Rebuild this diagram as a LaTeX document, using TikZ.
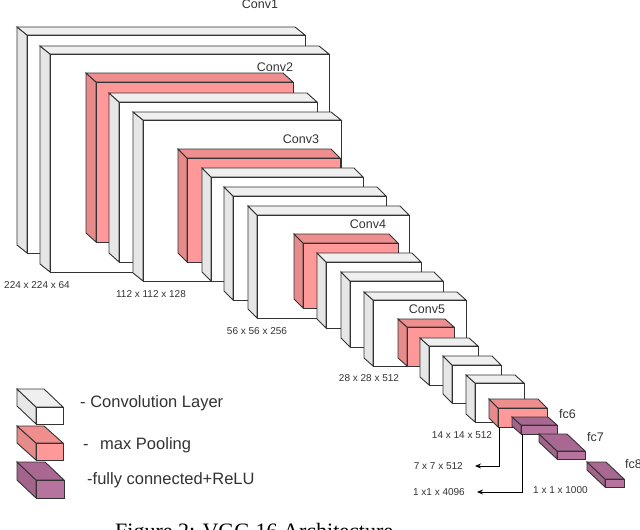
\documentclass[tikz,border=0pt]{standalone}
\usepackage{fontspec}
\setmainfont{Liberation Sans}
\newfontfamily\capfont{Liberation Serif}
\usetikzlibrary{arrows.meta}
\definecolor{convfront}{HTML}{FFFFFF}
\definecolor{convside}{HTML}{E6E6E6}
\definecolor{convtop}{HTML}{EFEFEF}
\definecolor{poolfront}{HTML}{FF9999}
\definecolor{poolside}{HTML}{E68A8A}
\definecolor{pooltop}{HTML}{EE8E8E}
\definecolor{fcfront}{HTML}{B5739D}
\definecolor{fcside}{HTML}{A3648C}
\definecolor{fctop}{HTML}{A86891}
\definecolor{edge}{HTML}{333333}
\definecolor{txt}{HTML}{333333}
\tikzset{
  face/.style={draw=edge, line width=0.9pt, line join=miter, inner sep=0pt, outer sep=0pt},
  dimlabel/.style={font=\fontsize{10}{12}\selectfont, text=txt, inner sep=0pt},
  layerlabel/.style={font=\fontsize{12.5}{14}\selectfont, text=txt, inner sep=0pt},
  legendlabel/.style={font=\fontsize{16.5}{19}\selectfont, text=txt, inner sep=0pt, anchor=west},
  conn/.style={draw=black, line width=0.9pt, -{Stealth[length=6pt,width=5pt]}},
}
\newcommand\cuboid[8]{%
  \filldraw[face, fill=#8side] (#2,#3) -- ({#2+#6},{#3+#7}) -- ({#2+#6},{#5+#7}) -- (#2,#5) -- cycle;
  \filldraw[face, fill=#8top] (#2,#3) -- ({#2+#6},{#3+#7}) -- ({#4+#6},{#3+#7}) -- (#4,#3) -- cycle;
  \node[face, fill=#8front, anchor=north west, minimum width={(#4-#2)*1pt}, minimum height={(#5-#3)*1pt}] (#1) at (#2,#3) {};
}
\begin{document}
\begin{tikzpicture}[x=1pt, y=-1pt]
\useasboundingbox[fill=white] (0,0) rectangle (640,530);
% block 1
\cuboid{c1}{27}{35}{305}{253}{-10}{-8}{conv}
\cuboid{c2}{50}{54}{329}{272}{-10}{-8}{conv}
\cuboid{p1}{96}{82}{293}{242}{-10}{-9}{pool}
% block 2
\cuboid{c3}{119}{102}{317}{262}{-10}{-9}{conv}
\cuboid{c4}{143}{120}{341}{281}{-10}{-8}{conv}
\cuboid{p2}{187}{158}{340}{262}{-9}{-9}{pool}
% block 3
\cuboid{c5}{211}{177}{363}{281}{-9}{-9}{conv}
\cuboid{c6}{233}{196}{386}{300}{-9}{-9}{conv}
\cuboid{c7}{257}{215}{409}{318}{-9}{-9}{conv}
\cuboid{p3}{303}{243}{398}{308}{-9}{-9}{pool}
% block 4
\cuboid{c8}{326}{262}{421}{328}{-9}{-9}{conv}
\cuboid{c9}{350}{281}{443}{347}{-9}{-9}{conv}
\cuboid{c10}{373}{300}{466}{366}{-9}{-8}{conv}
\cuboid{p4}{407}{327}{454}{366}{-9}{-8}{pool}
% block 5
\cuboid{c11}{429}{346}{478}{385}{-9}{-8}{conv}
\cuboid{c12}{452}{365}{501}{403}{-9}{-9}{conv}
\cuboid{c13}{475}{383}{524}{422}{-9}{-8}{conv}
\cuboid{p5}{498}{408}{547}{427}{-9}{-9}{pool}
% fully connected
\cuboid{f6}{521}{425}{557}{434}{-9}{-8}{fc}
\cuboid{f7}{557}{451}{585}{459}{-18}{-17}{fc}
\cuboid{f8}{605}{479}{624}{487}{-18}{-17}{fc}

% layer labels
\node[layerlabel] (l1) at (260,4) {Conv1};
\node[layerlabel] (l2) at (275,67) {Conv2};
\node[layerlabel] (l3) at (301,139) {Conv3};
\node[layerlabel] (l4) at (368,224) {Conv4};
\node[layerlabel] (l5) at (427,309) {Conv5};
\node[layerlabel, anchor=west] (l6) at (559,414) {fc6};
\node[layerlabel, anchor=west] (l7) at (587,437) {fc7};
\node[layerlabel, anchor=west] (l8) at (625,464) {fc8};

% dimension labels
\node[dimlabel] (d1) at (37,285) {224 x 224 x 64};
\node[dimlabel] (d2) at (151,294) {112 x 112 x 128};
\node[dimlabel] (d3) at (257,331) {56 x 56 x 256};
\node[dimlabel] (d4) at (369,378) {28 x 28 x 512};
\node[dimlabel] (d5) at (462,435) {14 x 14 x 512};
\node[dimlabel, anchor=east] (d6) at (463,466) {7 x 7 x 512};
\node[dimlabel, anchor=east] (d7) at (465,492) {1 x1 x 4096};
\node[dimlabel, anchor=west] (d8) at (533,490) {1 x 1 x 1000};

% connectors
\draw[conn] ([xshift=1pt]p5.south west) |- ([xshift=12pt]d6.east);
\draw[conn] ([xshift=1pt]f6.south west) |- ([xshift=12pt]d7.east);

% legend
\cuboid{lc}{36}{407}{63}{424}{-19}{-18}{conv}
\cuboid{lp}{36}{443}{63}{460}{-19}{-17}{pool}
\cuboid{lf}{36}{480}{64}{498}{-19}{-18}{fc}
\node[legendlabel] (tc) at (80,403) {- Convolution Layer};
\node[legendlabel] (tp) at (83,445) {-\hspace{0.7em}max Pooling};
\node[legendlabel] (tf) at (87,480) {-fully connected+ReLU};

% caption (cut by the lower edge)
\node[anchor=base west, inner sep=0pt, font=\capfont\fontsize{22}{26}\selectfont] (cap) at (115,538) {Figure 2: VGG 16 Architecture};
\end{tikzpicture}
\end{document}
